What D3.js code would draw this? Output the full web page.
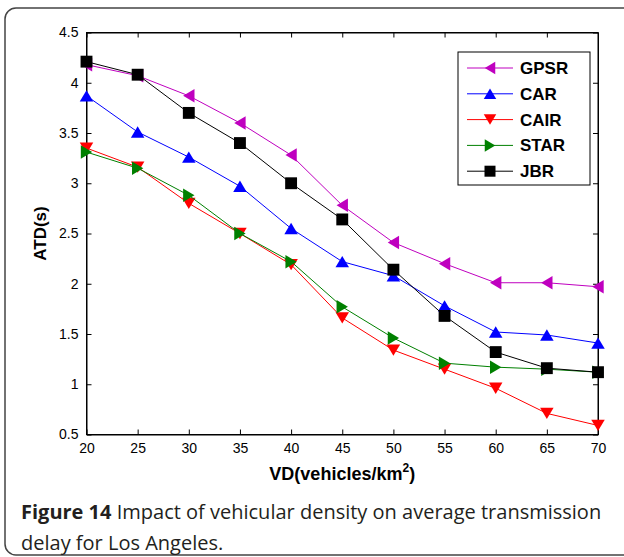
<!DOCTYPE html>
<html>
<head>
<meta charset="utf-8">
<script src="https://cdn.jsdelivr.net/npm/d3@7"></script>
<style>
  body { margin: 0; background: #fff; }
  svg { display: block; }
</style>
</head>
<body>
<svg id="chart"></svg>
<script>
const densities = [20, 25, 30, 35, 40, 45, 50, 55, 60, 65, 70];
const gpsr = [4.18, 4.07, 3.87, 3.60, 3.28, 2.78, 2.41, 2.20, 2.01, 2.01, 1.97];
const car  = [3.87, 3.51, 3.26, 2.97, 2.55, 2.22, 2.08, 1.78, 1.52, 1.49, 1.41];
const cair = [3.35, 3.16, 2.80, 2.50, 2.19, 1.66, 1.34, 1.15, 0.96, 0.71, 0.59];
const star = [3.31, 3.15, 2.88, 2.50, 2.22, 1.77, 1.46, 1.21, 1.17, 1.15, 1.12];
const jbr  = [4.21, 4.08, 3.70, 3.40, 3.00, 2.64, 2.14, 1.68, 1.32, 1.16, 1.12];
const yTicks = [0.5, 1, 1.5, 2, 2.5, 3, 3.5, 4, 4.5];

const series = [
    { name: "GPSR", values: gpsr, color: "#bf00bf", marker: "left" },
    { name: "CAR",  values: car,  color: "#0000ff", marker: "up" },
    { name: "CAIR", values: cair, color: "#ff0000", marker: "down" },
    { name: "STAR", values: star, color: "#008000", marker: "right" },
    { name: "JBR",  values: jbr,  color: "#000000", marker: "square" }
];

const width = 624;
const height = 557;
const margin = { top: 32.5, right: 26, bottom: 122.5, left: 86.5 };

const svg = d3.select("#chart").attr("width", width).attr("height", height);

// outer frame
svg.append("rect")
    .attr("x", 5).attr("y", 8)
    .attr("width", 640).attr("height", 547)
    .attr("rx", 11)
    .attr("fill", "none")
    .attr("stroke", "#444")
    .attr("stroke-width", 1.5);

const x = d3.scaleLinear()
    .domain([20, 70])
    .range([margin.left, width - margin.right]);

const y = d3.scaleLinear()
    .domain([0.5, 4.5])
    .range([height - margin.bottom, margin.top]);

const tickFont = "'Liberation Sans', Arial, sans-serif";

// X Axis (bottom, ticks inside)
const xAxis = svg.append("g")
    .attr("transform", `translate(0,${height - margin.bottom})`)
    .call(d3.axisBottom(x).tickValues(densities).tickSizeInner(-5).tickSizeOuter(0).tickPadding(9));
xAxis.selectAll("text").style("font-family", tickFont).style("font-size", "14px").attr("fill", "#000");

// top axis ticks
svg.append("g")
    .attr("transform", `translate(0,${margin.top})`)
    .call(d3.axisTop(x).tickValues(densities).tickSizeInner(-5).tickSizeOuter(0).tickFormat(""));

// Y Axis (left, ticks inside)
const yAxis = svg.append("g")
    .attr("transform", `translate(${margin.left},0)`)
    .call(d3.axisLeft(y).tickValues(yTicks).tickSizeInner(-5).tickSizeOuter(0).tickPadding(8).tickFormat(d3.format("")));
yAxis.selectAll("text").style("font-family", tickFont).style("font-size", "14px").attr("fill", "#000");

// right axis ticks
svg.append("g")
    .attr("transform", `translate(${width - margin.right},0)`)
    .call(d3.axisRight(y).tickValues(yTicks).tickSizeInner(-5).tickSizeOuter(0).tickFormat(""));

svg.selectAll(".domain").attr("stroke", "#000");
svg.selectAll(".tick line").attr("stroke", "#000");

// box outline
svg.append("rect")
    .attr("x", margin.left).attr("y", margin.top)
    .attr("width", width - margin.left - margin.right)
    .attr("height", height - margin.top - margin.bottom)
    .attr("fill", "none").attr("stroke", "#000");

function markerPath(type, s) {
    const h = s / 2;
    const t = s * 0.42;
    if (type === "up") return `M0,${-t}L${h},${t}L${-h},${t}Z`;
    if (type === "down") return `M0,${t}L${h},${-t}L${-h},${-t}Z`;
    if (type === "left") return `M${-t},0L${t},${-h}L${t},${h}Z`;
    if (type === "right") return `M${t},0L${-t},${-h}L${-t},${h}Z`;
    const q = s * 0.44;
    return `M${-q},${-q}H${q}V${q}H${-q}Z`;
}

const line = d3.line()
    .x((d, i) => x(densities[i]))
    .y(d => y(d));

series.forEach(s => {
    svg.append("path")
        .datum(s.values)
        .attr("d", line)
        .attr("fill", "none")
        .attr("stroke", s.color)
        .attr("stroke-width", 1);

    svg.append("g")
        .selectAll("path")
        .data(s.values)
        .join("path")
        .attr("transform", (d, i) => `translate(${x(densities[i])},${y(d)})`)
        .attr("d", markerPath(s.marker, 13.5))
        .attr("fill", s.color);
});

// Legend
const legend = svg.append("g");
legend.append("rect")
    .attr("x", 458).attr("y", 52)
    .attr("width", 132).attr("height", 133)
    .attr("fill", "#fff").attr("stroke", "#000");

series.forEach((s, i) => {
    const ly = 68 + i * 25.8;
    legend.append("line")
        .attr("x1", 467).attr("x2", 513)
        .attr("y1", ly).attr("y2", ly)
        .attr("stroke", s.color);
    legend.append("path")
        .attr("transform", `translate(490,${ly})`)
        .attr("d", markerPath(s.marker, 12.5))
        .attr("fill", s.color);
    legend.append("text")
        .attr("x", 520).attr("y", ly + 6)
        .style("font-family", tickFont)
        .style("font-size", "17px")
        .style("font-weight", "bold")
        .text(s.name);
});

// Axis labels
const xl = svg.append("text")
    .attr("x", (margin.left + width - margin.right) / 2)
    .attr("y", 480)
    .attr("text-anchor", "middle")
    .style("font-family", tickFont)
    .style("font-size", "18px")
    .style("font-weight", "bold");
xl.append("tspan").text("VD(vehicles/km");
xl.append("tspan").attr("dy", -8).style("font-size", "12px").text("2");
xl.append("tspan").attr("dy", 8).text(")");

svg.append("text")
    .attr("transform", `translate(46,${(margin.top + height - margin.bottom) / 2}) rotate(-90)`)
    .attr("text-anchor", "middle")
    .style("font-family", tickFont)
    .style("font-size", "17px")
    .style("font-weight", "bold")
    .text("ATD(s)");

// Caption
const cap = svg.append("g")
    .style("font-family", "'Open Sans', sans-serif")
    .style("font-size", "20px")
    .attr("fill", "#231f20");
const c1 = cap.append("text").attr("x", 21).attr("y", 519);
c1.append("tspan").style("font-weight", "bold").text("Figure 14");
c1.append("tspan").text(" Impact of vehicular density on average transmission");
cap.append("text").attr("x", 21).attr("y", 550).text("delay for Los Angeles.");
</script>
</body>
</html>
